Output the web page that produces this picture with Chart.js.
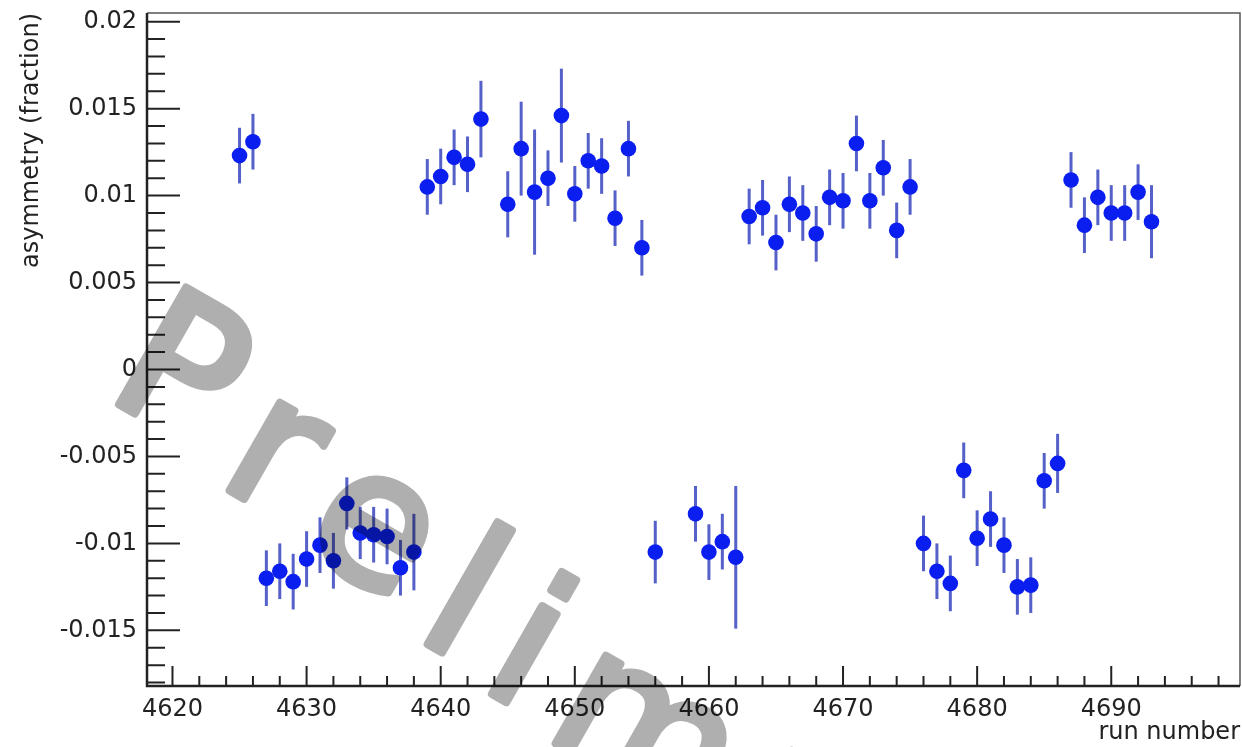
<!DOCTYPE html>
<html>
<head>
<meta charset="utf-8">
<script src="https://cdn.jsdelivr.net/npm/chart.js@4.4.0/dist/chart.umd.min.js"></script>
<style>
  html, body { margin: 0; padding: 0; background: #fff; overflow: hidden; }
  #wrap { width: 1242px; height: 747px; }
  canvas { display: block; }
</style>
</head>
<body>
<div id="wrap"><canvas id="c" width="1242" height="747"></canvas></div>
<script>
const runNumbers = [4625, 4626, 4627, 4628, 4629, 4630, 4631, 4632, 4633, 4634, 4635, 4636, 4637, 4638,
  4639, 4640, 4641, 4642, 4643, 4645, 4646, 4647, 4648, 4649, 4650, 4651, 4652, 4653, 4654, 4655,
  4656, 4659, 4660, 4661, 4662,
  4663, 4664, 4665, 4666, 4667, 4668, 4669, 4670, 4671, 4672, 4673, 4674, 4675,
  4676, 4677, 4678, 4679, 4680, 4681, 4682, 4683, 4684, 4685, 4686,
  4687, 4688, 4689, 4690, 4691, 4692, 4693]

const asymmetry = [0.0123, 0.0131, -0.0120, -0.0116, -0.0122, -0.0109, -0.0101, -0.0110, -0.0077, -0.0094, -0.0095, -0.0096, -0.0114, -0.0105,
  0.0105, 0.0111, 0.0122, 0.0118, 0.0144, 0.0095, 0.0127, 0.0102, 0.0110, 0.0146, 0.0101, 0.0120, 0.0117, 0.0087, 0.0127, 0.0070,
  -0.0105, -0.0083, -0.0105, -0.0099, -0.0108,
  0.0088, 0.0093, 0.0073, 0.0095, 0.0090, 0.0078, 0.0099, 0.0097, 0.0130, 0.0097, 0.0116, 0.0080, 0.0105,
  -0.0100, -0.0116, -0.0123, -0.0058, -0.0097, -0.0086, -0.0101, -0.0125, -0.0124, -0.0064, -0.0054,
  0.0109, 0.0083, 0.0099, 0.0090, 0.0090, 0.0102, 0.0085]

const asymmetryError = [0.0016, 0.0016, 0.0016, 0.0016, 0.0016, 0.0016, 0.0016, 0.0016, 0.0015, 0.0015, 0.0016, 0.0016, 0.0016, 0.0022,
  0.0016, 0.0016, 0.0016, 0.0016, 0.0022, 0.0019, 0.0027, 0.0036, 0.0016, 0.0027, 0.0016, 0.0016, 0.0016, 0.0016, 0.0016, 0.0016,
  0.0018, 0.0016, 0.0016, 0.0016, 0.0041,
  0.0016, 0.0016, 0.0016, 0.0016, 0.0016, 0.0016, 0.0016, 0.0016, 0.0016, 0.0016, 0.0016, 0.0016, 0.0016,
  0.0016, 0.0016, 0.0016, 0.0016, 0.0016, 0.0016, 0.0016, 0.0016, 0.0016, 0.0016, 0.0017,
  0.0016, 0.0016, 0.0016, 0.0016, 0.0016, 0.0016, 0.0021]

const xTicks = [4620, 4630, 4640, 4650, 4660, 4670, 4680, 4690]
const yTicks = [-0.015, -0.01, -0.005, 0, 0.005, 0.01, 0.015, 0.02]
const xRange = [4618.1, 4699.6]
const yRange = [-0.0182, 0.0205]

const FONT = '"DejaVu Sans", sans-serif'

// chart.js keeps a few px on the right, push the frame out to the edge
const frameRight = {
  id: 'frameRight',
  afterLayout(chart) {
    const a = chart.chartArea
    const dx = 1240 - a.right
    if (dx <= 0) return
    a.right += dx
    a.width += dx
    const x = chart.scales.x
    x.right += dx
    x.width += dx
    x.configure()
  }
}

// error bars, drawn under the markers
const errorBars = {
  id: 'errorBars',
  beforeDatasetsDraw(chart) {
    const ctx = chart.ctx
    const x = chart.scales.x, y = chart.scales.y
    ctx.save()
    ctx.strokeStyle = 'rgba(55, 68, 190, 0.85)'
    ctx.lineWidth = 3
    runNumbers.forEach((r, i) => {
      const px = x.getPixelForValue(r)
      ctx.beginPath()
      ctx.moveTo(px, y.getPixelForValue(asymmetry[i] + asymmetryError[i]))
      ctx.lineTo(px, y.getPixelForValue(asymmetry[i] - asymmetryError[i]))
      ctx.stroke()
    })
    ctx.restore()
  }
}

// ROOT-style frame with inward ticks
const frame = {
  id: 'frame',
  afterDraw(chart) {
    const ctx = chart.ctx
    const a = chart.chartArea
    const x = chart.scales.x, y = chart.scales.y
    ctx.save()
    ctx.strokeStyle = '#555'
    ctx.lineWidth = 1.5
    ctx.beginPath()
    ctx.moveTo(a.left, a.top)
    ctx.lineTo(a.right, a.top)
    ctx.lineTo(a.right, a.bottom)
    ctx.stroke()

    ctx.strokeStyle = '#222'
    ctx.lineWidth = 2.5
    ctx.beginPath()
    ctx.moveTo(a.left, a.top)
    ctx.lineTo(a.left, a.bottom)
    ctx.lineTo(a.right, a.bottom)
    ctx.stroke()

    ctx.lineWidth = 2
    ctx.beginPath()
    for (let v = -0.018; v <= 0.0205; v += 0.001) {
      const val = Math.round(v * 1000) / 1000
      const major = Math.abs(val * 200 - Math.round(val * 200)) < 1e-6
      const py = y.getPixelForValue(val)
      ctx.moveTo(a.left, py)
      ctx.lineTo(a.left + (major ? 33 : 18), py)
    }
    for (let v = 4620; v <= xRange[1]; v += 2) {
      const major = v % 10 === 0
      const px = x.getPixelForValue(v)
      ctx.moveTo(px, a.bottom)
      ctx.lineTo(px, a.bottom - (major ? 20 : 10))
    }
    ctx.stroke()
    ctx.restore()
  }
}

// handwritten watermark, multiplied over everything
const watermark = {
  id: 'watermark',
  afterDraw(chart) {
    const off = document.createElement('canvas')
    off.width = chart.width
    off.height = chart.height
    const o = off.getContext('2d')
    o.translate(140, 348)
    o.rotate(0.66)
    o.font = '185px "DejaVu Sans", sans-serif'
    o.fillStyle = 'rgb(175,175,175)'
    o.strokeStyle = 'rgb(175,175,175)'
    o.lineWidth = 8
    o.lineJoin = 'round'
    let cx = 0
    for (const ch of 'Preliminary') {
      o.save()
      o.translate(cx, 60)
      o.rotate(-0.14)
      o.fillText(ch, 0, 0)
      o.strokeText(ch, 0, 0)
      o.restore()
      cx += o.measureText(ch).width + 30
    }
    const ctx = chart.ctx
    ctx.save()
    ctx.globalCompositeOperation = 'multiply'
    ctx.drawImage(off, 0, 0)
    ctx.restore()
  }
}

new Chart(document.getElementById('c'), {
  type: 'scatter',
  data: {
    datasets: [{
      data: runNumbers.map((r, i) => ({ x: r, y: asymmetry[i] })),
      backgroundColor: '#0a1ef0',
      borderColor: '#0a1ef0',
      borderWidth: 0,
      pointRadius: 7.8,
      pointHoverRadius: 7.8
    }]
  },
  options: {
    responsive: false,
    animation: false,
    events: [],
    layout: { padding: { top: 13, right: 2, left: 0, bottom: 0 } },
    plugins: { legend: { display: false }, tooltip: { enabled: false } },
    scales: {
      x: {
        type: 'linear',
        min: xRange[0],
        max: xRange[1],
        afterBuildTicks: s => { s.ticks = xTicks.map(v => ({ value: v })) },
        afterFit: s => { s.height = 61; s.paddingLeft = 0; s.paddingRight = 0 },
        grid: { display: false, drawTicks: false },
        border: { display: false },
        ticks: {
          autoSkip: false,
          maxRotation: 0,
          padding: 0,
          color: '#222',
          font: { family: FONT, size: 24, lineHeight: 1.95 },
          callback: v => String(v)
        },
        title: {
          display: true,
          text: 'run number',
          align: 'end',
          color: '#222',
          font: { family: FONT, size: 24 },
          padding: { top: 0, bottom: 0 }
        }
      },
      y: {
        type: 'linear',
        min: yRange[0],
        max: yRange[1],
        afterBuildTicks: s => { s.ticks = yTicks.map(v => ({ value: v })) },
        afterFit: s => { s.width = 147; s.paddingTop = 0; s.paddingBottom = 0 },
        grid: { display: false, drawTicks: false },
        border: { display: false },
        ticks: {
          autoSkip: false,
          padding: 10,
          color: '#222',
          font: { family: FONT, size: 24 },
          callback: v => String(v)
        },
        title: {
          display: true,
          text: 'asymmetry (fraction)',
          align: 'end',
          color: '#222',
          font: { family: FONT, size: 24 },
          padding: { top: 17, bottom: 4 }
        }
      }
    }
  },
  plugins: [frameRight, errorBars, frame, watermark]
})
</script>
</body>
</html>
